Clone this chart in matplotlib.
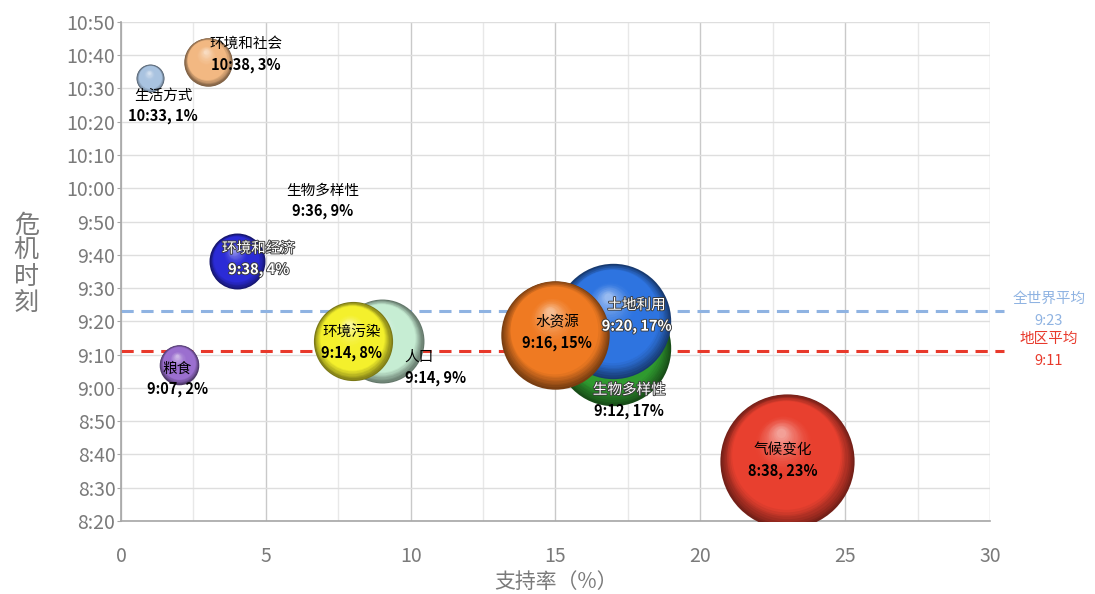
import matplotlib
matplotlib.use("Agg")
import matplotlib.pyplot as plt
import matplotlib.transforms as mtransforms
import matplotlib.patheffects as pe
from matplotlib.colors import to_rgb
import numpy as np

plt.rcParams['font.family'] = ['Noto Sans CJK SC', 'DejaVu Sans']

# data: support rate (%), crisis time (h:mm)
names = ["生活方式", "环境和社会", "环境和经济", "粮食", "人口", "环境污染",
         "生物多样性", "土地利用", "水资源", "气候变化"]
support = [1, 3, 4, 2, 9, 8, 17, 17, 15, 23]
times = ["10:33", "10:38", "9:38", "9:07", "9:14", "9:14", "9:12", "9:20", "9:16", "8:38"]
colors = ["#a9c3e0", "#f2b882", "#2b2bd6", "#9b6fcf", "#c6edd3", "#f4f02c",
          "#2f9a2f", "#2e74e0", "#ef7a22", "#e8402f"]
# label anchor (data coords) and text colours (name, number)
label_x = [1.45, 4.3, 4.75, 1.95, 9.8, 7.95, 17.55, 17.8, 15.05, 22.85]
label_y = [624.5, 640.0, 578.5, 542.5, 546.0, 553.5, 536.0, 561.5, 556.5, 518.0]
label_ha = ["center"] * 4 + ["left"] + ["center"] * 5
name_col = ["black", "black", "white", "black", "black", "black", "white", "white", "black", "black"]
num_col = ["black", "black", "white", "black", "black", "black", "black", "white", "black", "black"]

# stray label without a bubble
extra_label = ("生物多样性", "9:36, 9%")
extra_xy = (6.95, 596.0)

world_avg = "9:23"
region_avg = "9:11"

x_ticks = [0, 5, 10, 15, 20, 25, 30]
y_ticks = list(range(500, 651, 10))


def to_min(t):
    h, m = t.split(":")
    return int(h) * 60 + int(m)


def fmt(v):
    return "%d:%02d" % (v // 60, v % 60)


fig = plt.figure(figsize=(10.95, 5.94), dpi=100)
ax = fig.add_axes([0.1105, 0.123, 0.7936, 0.8401])
ax.set_xlim(0, 30)
ax.set_ylim(500, 650)

# grid
for xv in np.arange(0, 30.1, 2.5):
    major = abs(xv % 5) < 1e-9
    ax.axvline(xv, color="#c9c9c9" if major else "#e8e8e8", lw=1.0, zorder=0)
for yv in y_ticks:
    ax.axhline(yv, color="#dedede", lw=1.0, zorder=0)

for s in ["top", "right"]:
    ax.spines[s].set_visible(False)
for s in ["left", "bottom"]:
    ax.spines[s].set_color("#a6a6a6")
    ax.spines[s].set_linewidth(1.2)

ax.set_xticks(x_ticks)
ax.set_yticks(y_ticks)
ax.set_yticklabels([fmt(v) for v in y_ticks])
ax.tick_params(axis="both", colors="#a6a6a6", labelcolor="#7a7a7a", labelsize=14)
ax.tick_params(axis="x", length=0, pad=18)
ax.tick_params(axis="y", length=3, pad=1)

ax.set_xlabel("支持率（%）", fontsize=15, color="#7a7a7a", labelpad=3)
fig.text(0.024, 0.555, "危\n机\n时\n刻", fontsize=18, color="#7a7a7a",
         ha="center", va="center", linespacing=1.0)


def ball(x, y, size, col, z):
    base = np.array(to_rgb(col))
    dark = base * 0.5
    light = base + (1 - base) * 0.5
    r_pt = np.sqrt(size) / 2
    n = 40
    for i in range(n):
        t = i / (n - 1)
        frac = 1 - 0.93 * t
        if t < 0.2:
            c = dark + (base - dark) * (t / 0.2)
        elif t < 0.6:
            c = base
        else:
            c = base + (light - base) * ((t - 0.6) / 0.4) ** 1.5
        dx = -0.1 * r_pt * t
        dy = 0.42 * r_pt * t
        tr = mtransforms.offset_copy(ax.transData, fig=fig, x=dx, y=dy, units="points")
        ax.scatter([x], [y], s=size * frac ** 2, color=np.clip(c, 0, 1),
                   transform=tr, zorder=z + t * 0.5, linewidths=0)


scale = 406  # points^2 per % (bubble area proportional to support)
for i in range(len(names)):
    ball(support[i], to_min(times[i]), scale * support[i], colors[i], 2 + i)

shadow = [pe.withStroke(linewidth=1.3, foreground="#3a3a3a")]
for i in range(len(names)):
    fx1 = shadow if name_col[i] == "white" else None
    fx2 = shadow if num_col[i] == "white" else None
    ax.annotate(names[i], (label_x[i], label_y[i]), xytext=(0, 8), textcoords="offset points",
                ha=label_ha[i], va="center", fontsize=10.5, color=name_col[i], zorder=30,
                path_effects=fx1)
    ax.annotate("%s, %d%%" % (times[i], support[i]), (label_x[i], label_y[i]),
                xytext=(0, -7), textcoords="offset points", ha=label_ha[i], va="center",
                fontsize=10.5, fontweight="bold", color=num_col[i], zorder=30,
                path_effects=fx2)

ax.annotate(extra_label[0], extra_xy, xytext=(0, 8), textcoords="offset points",
            ha="center", va="center", fontsize=10.5, color="black", zorder=30)
ax.annotate(extra_label[1], extra_xy, xytext=(0, -7), textcoords="offset points",
            ha="center", va="center", fontsize=10.5, fontweight="bold", color="black", zorder=30)

# average lines
for t, col, lab in [(world_avg, "#8fb3e2", "全世界平均"), (region_avg, "#e8392b", "地区平均")]:
    yv = to_min(t)
    ax.plot([0, 30.5], [yv, yv], color=col, lw=2.2, ls=(0, (4, 2.5)), zorder=1, clip_on=False)
    ax.annotate(lab, (30.5, yv), xytext=(32, 9), textcoords="offset points",
                ha="center", va="center", fontsize=10.5, color=col, annotation_clip=False)
    ax.annotate(t, (30.5, yv), xytext=(32, -7), textcoords="offset points",
                ha="center", va="center", fontsize=10.5, color=col, annotation_clip=False)

fig.savefig("out.png", dpi=100)
